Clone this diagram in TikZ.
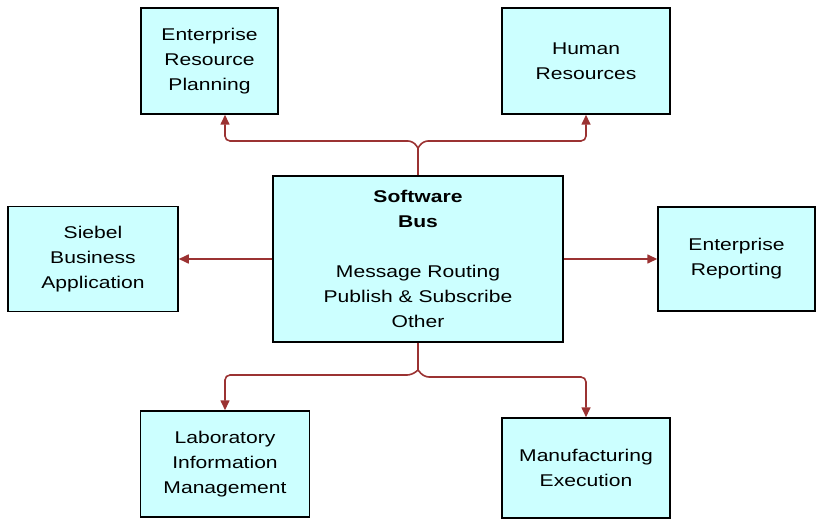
\documentclass[tikz,border=0pt]{standalone}
\usepackage{fontspec}
\setmainfont[FakeStretch=1.24]{Liberation Sans}
\usetikzlibrary{arrows.meta}
\definecolor{busfill}{RGB}{204,255,255}
\definecolor{buslink}{RGB}{155,50,50}

\begin{document}
\begin{tikzpicture}[x=1pt,y=-1pt,every node/.style={black},
	sysbox/.style={draw,line width=1.5pt,fill=busfill,align=center,inner sep=0pt,
		font=\fontsize{17}{25}\selectfont},
	link/.style={draw=buslink,line width=1.6pt,rounded corners=5pt}]
	\useasboundingbox (0,0) rectangle (816,521);

	\node[sysbox,minimum width=137pt,minimum height=106pt] (erp) at (209.5,61) {Enterprise\\Resource\\Planning};
	\node[sysbox,minimum width=168pt,minimum height=106pt] (hr) at (586,61) {Human\\Resources};
	\node[sysbox,minimum width=290pt,minimum height=166pt] (bus) at (418,259)
		{\textbf{Software}\\\textbf{Bus}\\[25pt]Message Routing\\Publish \& Subscribe\\Other};
	\node[sysbox,minimum width=170pt,minimum height=105pt] (siebel) at (93,259) {Siebel\\Business\\Application};
	\node[sysbox,minimum width=157pt,minimum height=104pt] (report) at (736.5,259) {Enterprise\\Reporting};
	\node[sysbox,minimum width=169pt,minimum height=106pt] (lim) at (225,464) {Laboratory\\Information\\Management};
	\node[sysbox,minimum width=168pt,minimum height=100pt] (me) at (586,468) {Manufacturing\\Execution};

	\coordinate (topfork) at (418,148);
	\coordinate (botfork) at (418,370);

	\draw[link] (bus.north) -- (topfork);
	\draw[link] (bus.south) -- (botfork);
	\begin{scope}[-{Triangle[length=10pt,width=9pt]}]
		\draw[link] (topfork) -- (413,141) -- (225,141) -- ([xshift=15.5pt]erp.south);
		\draw[link] (topfork) -- (423,141) -- (586,141) -- (hr.south);
		\draw[link] (bus.west) -- (siebel.east);
		\draw[link] (bus.east) -- (report.west);
		\draw[link] (botfork) -- (412,375) -- (225,375) -- (lim.north);
		\draw[link] (botfork) -- (424,377) -- (586,377) -- (me.north);
	\end{scope}
\end{tikzpicture}
\end{document}
